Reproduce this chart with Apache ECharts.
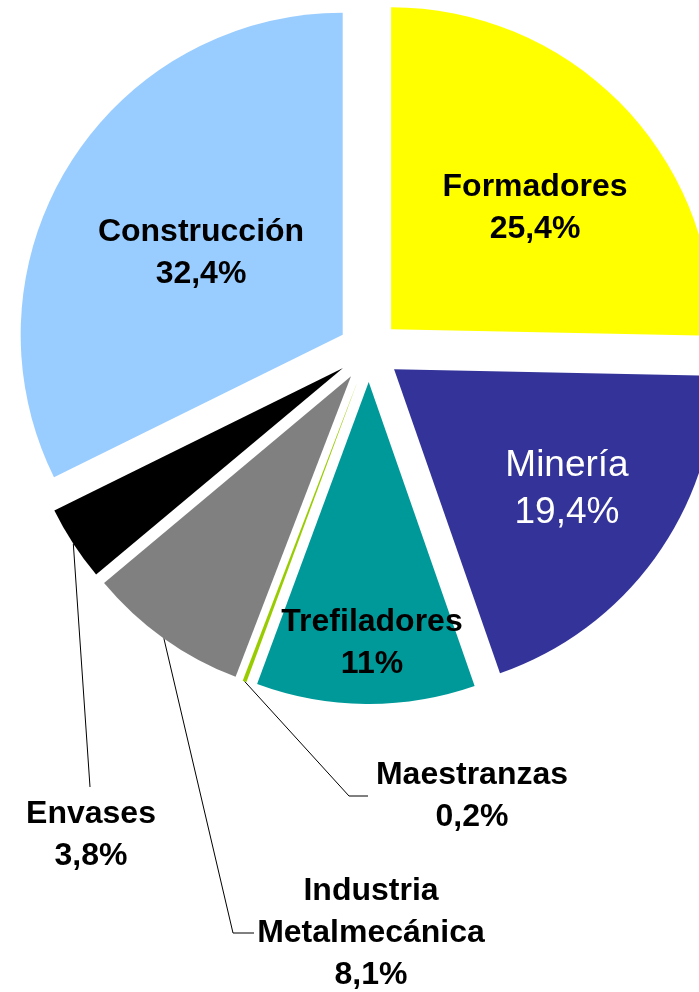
<!DOCTYPE html>
<html>
<head>
<meta charset="utf-8">
<script src="https://cdn.jsdelivr.net/npm/echarts@6/dist/echarts.min.js"></script>
<style>
  html, body { margin: 0; padding: 0; background: #ffffff; }
  #chart { width: 699px; height: 992px; }
</style>
</head>
<body>
<div id="chart"></div>
<script>
// Sectors, clockwise from 12 o'clock
const categories = ['Formadores', 'Minería', 'Trefiladores', 'Maestranzas', 'Industria Metalmecánica', 'Envases', 'Construcción'];
const shares = [25.4, 19.4, 11, 0.2, 8.1, 3.8, 32.4];

// Presentation settings (kept apart from the values)
const sliceColors = ['#FFFF00', '#333399', '#009999', '#99CC00', '#808080', '#000000', '#99CCFF'];
const outsideLabel = [false, false, false, true, true, true, false];
// Centre of each label block, plus the elbow of the leader line for outside labels
const labelSpots = [
  { x: 535, y: 208 },
  { x: 567, y: 489 },
  { x: 372, y: 643 },
  { x: 472, y: 796, elbow: [[349, 796], [368, 796]] },
  { x: 371, y: 933, elbow: [[233, 933], [254, 933]] },
  { x: 91,  y: 835, elbow: [[90, 787], [90, 787]] },
  { x: 201, y: 253 }
];

const EXPLODE = 31;
const FONT = "'Liberation Sans', Arial, Helvetica, sans-serif";

function fmtShare(v) {
  return String(v).replace('.', ',') + '%';
}

// Each exploded sector (with its label and guide line) is shifted along its mid angle
const total = shares.reduce((a, b) => a + b, 0);
const sliceShift = [];
(function () {
  let acc = 0;
  shares.forEach(v => {
    const mid = (acc + v / 2) / total * Math.PI * 2;
    sliceShift.push([EXPLODE * Math.sin(mid), -EXPLODE * Math.cos(mid)]);
    acc += v;
  });
})();

const data = categories.map((name, i) => {
  const isMineria = name === 'Minería';
  return {
    name: name,
    value: shares[i],
    selected: true,
    itemStyle: { color: sliceColors[i], borderWidth: 0 },
    label: {
      show: true,
      position: outsideLabel[i] ? 'outside' : 'inside',
      color: isMineria ? '#FFFFFF' : '#000000',
      fontWeight: isMineria ? 'normal' : 'bold',
      fontSize: isMineria ? 37 : 32,
      lineHeight: isMineria ? 47 : 42
    },
    labelLine: {
      show: outsideLabel[i],
      lineStyle: { color: '#000000', width: 1 }
    }
  };
});

const chart = echarts.init(document.getElementById('chart'), null, { renderer: 'canvas' });

chart.setOption({
  backgroundColor: '#FFFFFF',
  animation: false,
  series: [{
    type: 'pie',
    center: [369, 351],
    radius: 322,
    startAngle: 90,
    clockwise: true,
    selectedMode: 'multiple',
    selectedOffset: EXPLODE,
    avoidLabelOverlap: false,
    select: { itemStyle: { borderWidth: 0 } },
    emphasis: { disabled: true },
    label: {
      fontFamily: FONT,
      align: 'center',
      formatter: p => p.name.replace(' ', '\n') + '\n' + fmtShare(p.value)
    },
    labelLayout: function (params) {
      const i = params.dataIndex;
      const spot = labelSpots[i];
      const r = params.labelRect;
      const s = sliceShift[i];
      // outside labels come right-aligned (left half of the pie); re-centre them
      const anchorX = outsideLabel[i] ? r.x + r.width : r.x + r.width / 2;
      const out = {
        align: 'center',
        dx: spot.x - anchorX - s[0],
        dy: spot.y - (r.y + r.height / 2) - s[1]
      };
      if (spot.elbow && params.labelLinePoints) {
        out.labelLinePoints = [
          params.labelLinePoints[0],
          [spot.elbow[0][0] - s[0], spot.elbow[0][1] - s[1]],
          [spot.elbow[1][0] - s[0], spot.elbow[1][1] - s[1]]
        ];
      }
      return out;
    },
    data: data
  }]
});
</script>
</body>
</html>
